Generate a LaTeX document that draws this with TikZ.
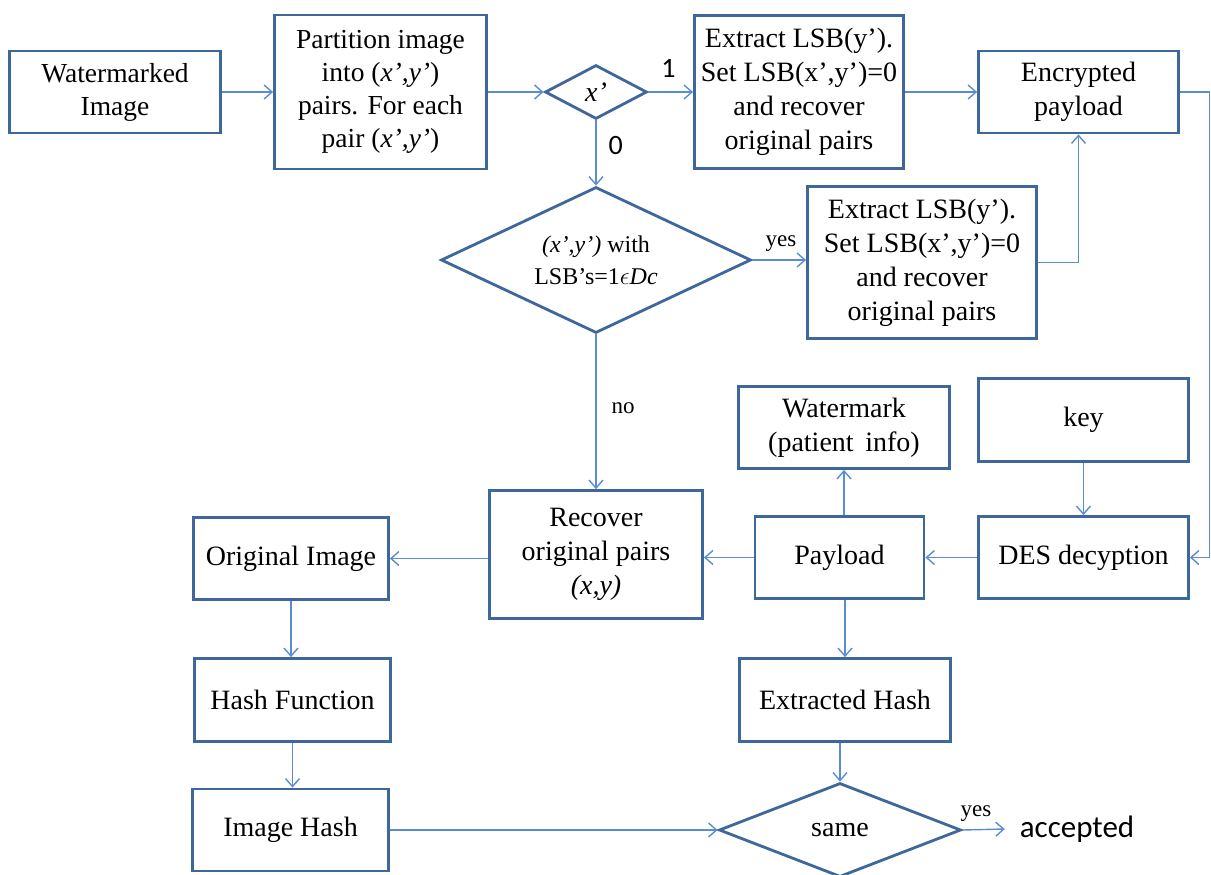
\documentclass[tikz,border=0pt]{standalone}
\usepackage{fontspec}
\setmainfont{Liberation Serif}
\newfontfamily\sansfont{Carlito}
\usetikzlibrary{arrows.meta,shapes.geometric}
\definecolor{boxc}{HTML}{3E679B}
\definecolor{linec}{HTML}{5B8CD0}
\begin{document}
\begin{tikzpicture}[x=1pt,y=-1pt,
 box/.style={draw=boxc, line width=2.8pt, fill=white, inner sep=2pt, align=center, font=\fontsize{28}{34}\selectfont},
 dia/.style={draw=boxc, line width=2.8pt, diamond, fill=white, inner sep=0pt},
 conn/.style={draw=linec, line width=1.4pt, -{Straight Barb[length=8pt,width=14pt]}},
 lbl/.style={inner sep=0pt, font=\fontsize{23}{24}\selectfont},
 num/.style={inner sep=0pt, font=\sansfont\fontsize{28}{28}\selectfont}]
\useasboundingbox (0,0) rectangle (1211,875);

\node[box, minimum width=211pt, minimum height=82pt, font=\fontsize{27.5}{33}\selectfont] (wm) at (115,92) {Watermarked\\Image};
\node[box, minimum width=212pt, minimum height=154pt, font=\fontsize{27.5}{33}\selectfont] (part) at (380.5,92) {Partition image\\into (\textit{x’,y’})\\pairs. For each\\pair (\textit{x’,y’})};
\node[dia, minimum width=102pt, minimum height=54pt, label={[font=\fontsize{28}{28}\selectfont\itshape]center:x’}] (d1) at (596,92) {};
\node[box, minimum width=209pt, minimum height=153pt] (ex1) at (799,92) {Extract LSB(y’).\\Set LSB(x’,y’)=0\\and recover\\original pairs};
\node[box, minimum width=200pt, minimum height=82pt] (enc) at (1078.5,92) {Encrypted\\payload};
\node[dia, minimum width=310pt, minimum height=146pt, label={[font=\fontsize{24}{32}\selectfont, align=center]center:{\textit{(x’,y’)} with\\LSB’s=1$\epsilon$\textit{Dc}}}] (d2) at (596,260) {};
\node[box, minimum width=229pt, minimum height=152pt] (ex2) at (922,262.5) {Extract LSB(y’).\\Set LSB(x’,y’)=0\\and recover\\original pairs};
\node[box, minimum width=211pt, minimum height=82pt] (wmk) at (844,427.5) {Watermark\\(patient\, info)};
\node[box, minimum width=210pt, minimum height=83pt] (key) at (1083.5,420) {key};
\node[box, minimum width=213pt, minimum height=128pt] (rec) at (596,554.5) {Recover\\original pairs\\\textit{(x,y)}};
\node[box, minimum width=195pt, minimum height=82pt] (orig) at (291,558.5) {Original Image};
\node[box, minimum width=169pt, minimum height=82pt] (pay) at (839.5,557.5) {Payload};
\node[box, minimum width=210pt, minimum height=82pt] (des) at (1083.5,557.5) {DES decyption};
\node[box, minimum width=196pt, minimum height=83pt] (hf) at (292.5,700) {Hash Function};
\node[box, minimum width=211pt, minimum height=83pt] (exh) at (845,700) {Extracted Hash};
\node[box, minimum width=196pt, minimum height=82pt] (ih) at (290.5,830) {Image Hash};
\node[dia, minimum width=242pt, minimum height=94pt, label={[font=\fontsize{28}{30}\selectfont]center:same}] (same) at (840,830) {};
\node[inner sep=0pt, outer xsep=15pt, font=\sansfont\fontsize{31}{32}\selectfont] (acc) at (1077,829) {accepted};
\coordinate (rt) at (1209.5,92);

\draw[conn] (wm.east) -- (part.west);
\draw[conn] (part.east) -- (d1.west);
\draw[conn] (d1.east) -- node[num, pos=0.45, above=14pt]{1} (ex1.west);
\draw[conn] (d1.south) -- node[num, pos=0.39, right=12pt]{0} (d2.north);
\draw[conn] (ex1.east) -- (enc.west);
\draw[conn] (d2.east) -- node[lbl, pos=0.53, above=8pt]{yes} (d2.east -| ex2.west);
\draw[conn] (ex2.east) -| (enc.south);
\draw[conn] (enc.east) -- (rt) |- (des.east);
\draw[conn] (key.south) -- (des.north);
\draw[conn] (des.west) -- (pay.east);
\draw[conn] (pay.west) -- (pay.west -| rec.east);
\draw[conn] (pay.north -| wmk.south) -- (wmk.south);
\draw[conn] (pay.south -| exh.north) -- (exh.north);
\draw[conn] (d2.south) -- node[lbl, pos=0.48, right=15pt]{no} (d2.south |- rec.north);
\draw[conn] (rec.west |- orig.east) -- (orig.east);
\draw[conn] (orig.south) -- (orig.south |- hf.north);
\draw[conn] (hf.south) -- (hf.south |- ih.north);
\draw[conn] (ih.east) -- (same.west);
\draw[conn] (same.north |- exh.south) -- (same.north);
\draw[conn] (same.east) -- node[lbl, pos=0.32, above=8pt]{yes} (acc.west);
\end{tikzpicture}
\end{document}
